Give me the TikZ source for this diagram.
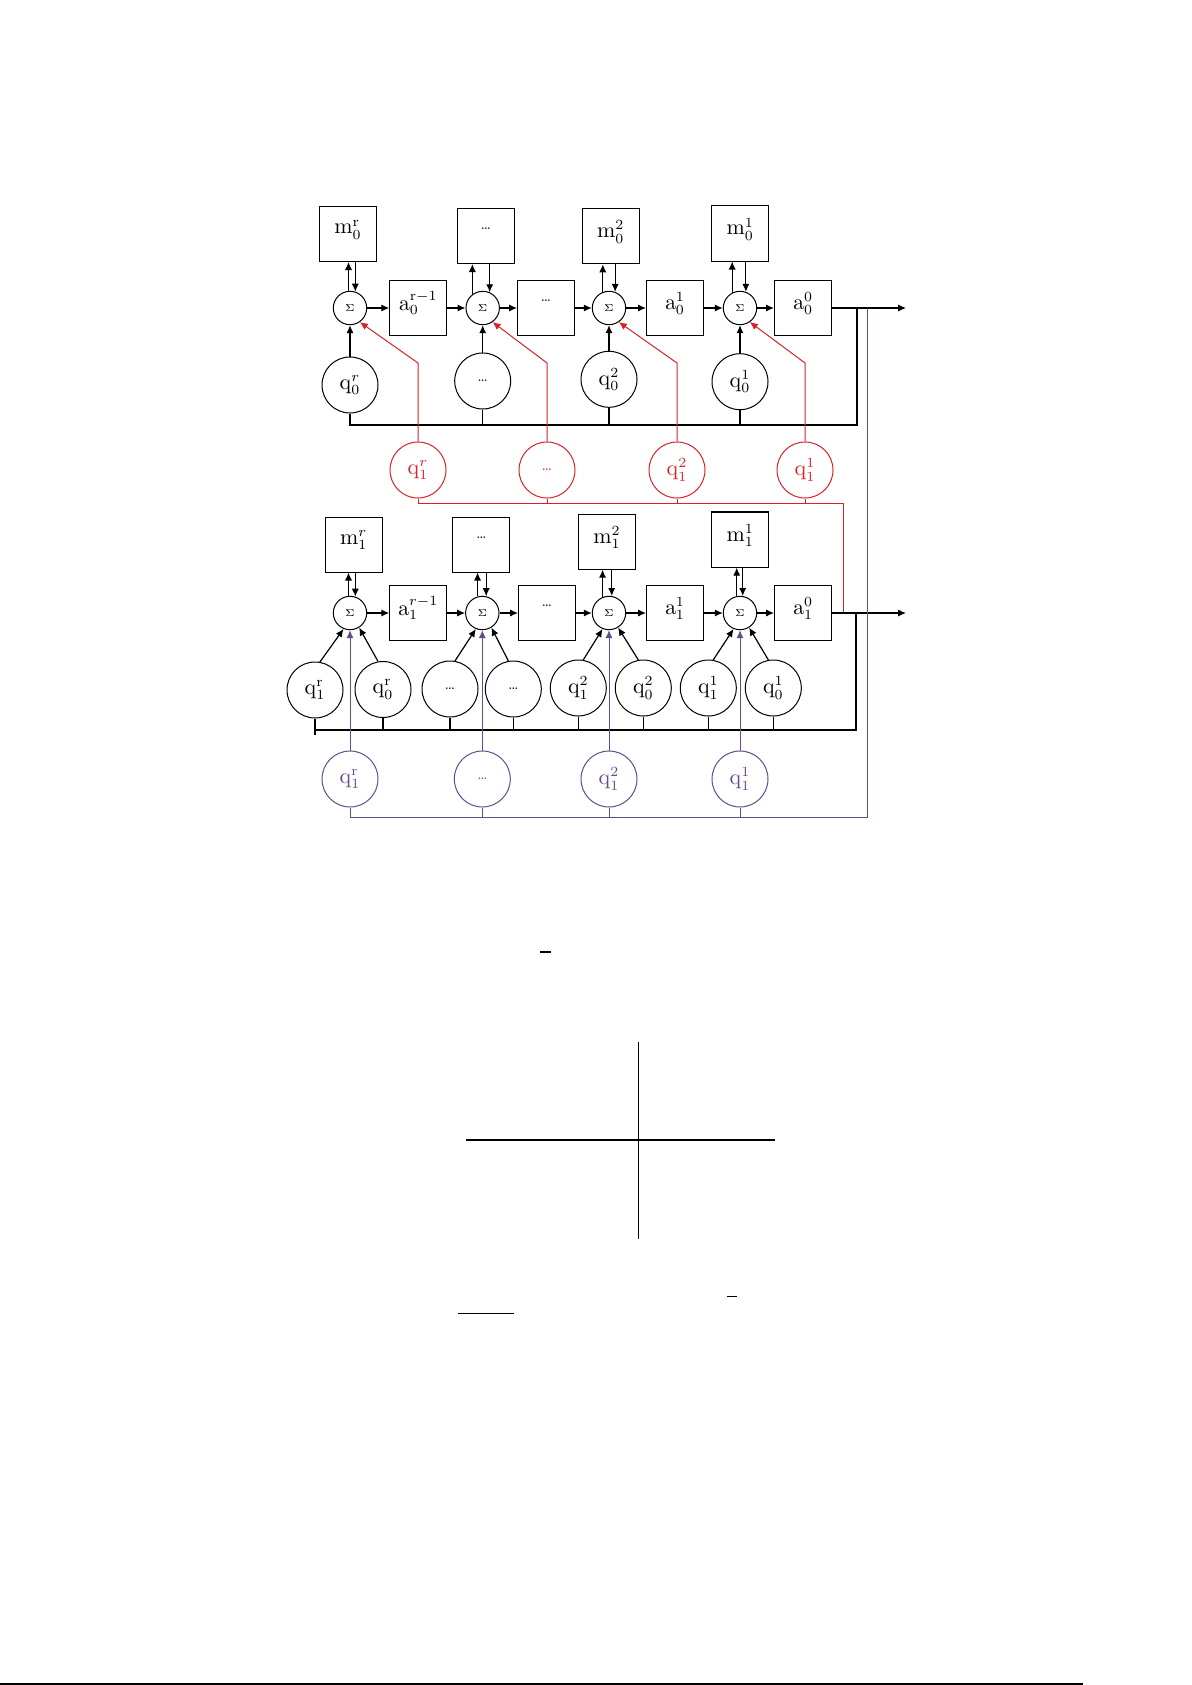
\documentclass[tikz,border=0pt]{standalone}
\usetikzlibrary{arrows.meta}
\definecolor{myred}{RGB}{215,35,40}
\definecolor{mypurple}{RGB}{105,75,140}
\newcommand\mydots{{\fontsize{7}{8}\selectfont\ldots}}
\begin{document}
\begin{tikzpicture}[x=0.5pt,y=-0.5pt,
  every node/.style={font=\fontsize{10.5}{12}\selectfont},
  bx/.style={draw, line width=0.5pt, minimum width=28.5pt, minimum height=27.5pt, inner sep=0pt},
  sg/.style={draw, circle, line width=0.5pt, minimum size=16.7pt, inner sep=0pt, font=\fontsize{5.5}{6}\selectfont},
  qc/.style={draw, circle, line width=0.5pt, minimum size=28pt, inner sep=0pt},
  rc/.style={qc, draw=myred, text=myred},
  pc/.style={qc, draw=mypurple, text=mypurple},
  ln/.style={line width=0.6pt},
  arr/.style={ln, -{Latex[length=4pt,width=3.6pt]}},
  rln/.style={line width=0.5pt, myred},
  rarr/.style={rln, -{Latex[length=4pt,width=3.6pt]}},
  pln/.style={line width=0.5pt, mypurple},
  parr/.style={pln, -{Latex[length=4pt,width=3.6pt]}},
  misc/.style={line width=0.75pt}
]
\useasboundingbox (0,0) rectangle (1192,1685);

% ---------- upper chain ----------
\node[bx] (M01) at (348,234) {\raisebox{7pt}{$\mathrm{m}_0^{\mathrm{r}}$}};
\node[bx] (M02) at (485.8,236) {\raisebox{7pt}{\mydots}};
\node[bx] (M03) at (610.8,236.3) {\raisebox{7pt}{$\mathrm{m}_0^{2}$}};
\node[bx] (M04) at (740.3,233.5) {\raisebox{7pt}{$\mathrm{m}_0^{1}$}};

\node[sg] (S01) at (350,308) {$\Sigma$};
\node[sg] (S02) at (482.7,308) {$\Sigma$};
\node[sg] (S03) at (609,308) {$\Sigma$};
\node[sg] (S04) at (740,308) {$\Sigma$};

\node[bx] (A01) at (418.3,308) {\raisebox{7pt}{$\mathrm{a}_0^{\mathrm{r-1}}$}};
\node[bx] (A02) at (546,308) {\raisebox{7pt}{\mydots}};
\node[bx] (A03) at (675,308) {\raisebox{7pt}{$\mathrm{a}_0^{1}$}};
\node[bx] (A04) at (803,308) {\raisebox{7pt}{$\mathrm{a}_0^{0}$}};

\node[qc] (Q01) at (350,385) {$\mathrm{q}_0^{r}$};
\node[qc] (Q02) at (482.7,381) {\mydots};
\node[qc] (Q03) at (609,379.3) {$\mathrm{q}_0^{2}$};
\node[qc] (Q04) at (740,381.7) {$\mathrm{q}_0^{1}$};

\coordinate (O0) at (906,308);
\coordinate (B0R) at (857,425);

\draw[arr] (S01.east) -- (S01.east -| A01.west);
\draw[arr] (A01.east |- S02.west) -- (S02.west);
\draw[arr] (S02.east) -- (S02.east -| A02.west);
\draw[arr] (A02.east |- S03.west) -- (S03.west);
\draw[arr] (S03.east) -- (S03.east -| A03.west);
\draw[arr] (A03.east |- S04.west) -- (S04.west);
\draw[arr] (S04.east) -- (S04.east -| A04.west);
\draw[arr] (A04.east) -- (O0);

\draw[arr] (S01.95) -- (S01.95 |- M01.south);
\draw[arr] (S01.72 |- M01.south) -- (S01.72);
\draw[arr] (S02.127) -- (S02.127 |- M02.south);
\draw[arr] (S02.66 |- M02.south) -- (S02.66);
\draw[arr] (S03.111) -- (S03.111 |- M03.south);
\draw[arr] (S03.69 |- M03.south) -- (S03.69);
\draw[arr] (S04.117) -- (S04.117 |- M04.south);
\draw[arr] (S04.70 |- M04.south) -- (S04.70);

\draw[arr] (Q01.north) -- (S01.south);
\draw[arr] (Q02.north) -- (S02.south);
\draw[arr] (Q03.north) -- (S03.south);
\draw[arr] (Q04.north) -- (S04.south);

\draw[ln] (Q01.south) |- (B0R) -- (B0R |- O0);
\draw[ln] (Q02.south) -- (Q02.south |- B0R);
\draw[ln] (Q03.south) -- (Q03.south |- B0R);
\draw[ln] (Q04.south) -- (Q04.south |- B0R);

% ---------- red feedback ----------
\node[rc] (R1) at (418,470) {$\mathrm{q}_1^{r}$};
\node[rc] (R2) at (547,470) {\mydots};
\node[rc] (R3) at (677,470) {$\mathrm{q}_1^{2}$};
\node[rc] (R4) at (805,470) {$\mathrm{q}_1^{1}$};
\coordinate (K1) at (418,363);
\coordinate (K2) at (547,363);
\coordinate (K3) at (677,363);
\coordinate (K4) at (805,363);
\draw[rarr] (R1.north) -- (K1) -- (S01.-55);
\draw[rarr] (R2.north) -- (K2) -- (S02.-55);
\draw[rarr] (R3.north) -- (K3) -- (S03.-55);
\draw[rarr] (R4.north) -- (K4) -- (S04.-55);
\coordinate (RB) at (843,503);
\coordinate (O1) at (906,613);
\draw[rln] (R1.south) |- (RB) -- (RB |- O1);
\draw[rln] (R2.south) -- (R2.south |- RB);
\draw[rln] (R3.south) -- (R3.south |- RB);
\draw[rln] (R4.south) -- (R4.south |- RB);

% ---------- lower chain ----------
\node[bx] (M11) at (353.8,544.5) {\raisebox{7pt}{$\mathrm{m}_1^{r}$}};
\node[bx] (M12) at (481.3,544.5) {\raisebox{7pt}{\mydots}};
\node[bx] (M13) at (607,541.7) {\raisebox{7pt}{$\mathrm{m}_1^{2}$}};
\node[bx] (M14) at (740.3,539.7) {\raisebox{7pt}{$\mathrm{m}_1^{1}$}};
\draw[line width=1.1pt] (M14.north west) -- (M14.north east);

\node[sg] (S11) at (350,613) {$\Sigma$};
\node[sg] (S12) at (482.3,613) {$\Sigma$};
\node[sg] (S13) at (609,613) {$\Sigma$};
\node[sg] (S14) at (740,613) {$\Sigma$};

\node[bx] (A11) at (418.3,613) {\raisebox{7pt}{$\mathrm{a}_1^{r-1}$}};
\node[bx] (A12) at (547,613) {\raisebox{7pt}{\mydots}};
\node[bx] (A13) at (675,613) {\raisebox{7pt}{$\mathrm{a}_1^{1}$}};
\node[bx] (A14) at (803,613) {\raisebox{7pt}{$\mathrm{a}_1^{0}$}};

\node[qc] (L1) at (315,690) {$\mathrm{q}_1^{\mathrm{r}}$};
\node[qc] (L2) at (383,689.5) {$\mathrm{q}_0^{\mathrm{r}}$};
\node[qc] (L3) at (450,689) {\mydots};
\node[qc] (L4) at (513.3,689) {\mydots};
\node[qc] (L5) at (578.3,688) {$\mathrm{q}_1^{2}$};
\node[qc] (L6) at (643.3,688) {$\mathrm{q}_0^{2}$};
\node[qc] (L7) at (708.3,688) {$\mathrm{q}_1^{1}$};
\node[qc] (L8) at (773.3,688) {$\mathrm{q}_0^{1}$};

\draw[arr] (S11.east) -- (S11.east -| A11.west);
\draw[arr] (A11.east |- S12.west) -- (S12.west);
\draw[arr] (S12.east) -- (S12.east -| A12.west);
\draw[arr] (A12.east |- S13.west) -- (S13.west);
\draw[arr] (S13.east) -- (S13.east -| A13.west);
\draw[arr] (A13.east |- S14.west) -- (S14.west);
\draw[arr] (S14.east) -- (S14.east -| A14.west);
\draw[arr] (A14.east) -- (O1);

\draw[arr] (S11.95) -- (S11.95 |- M11.south);
\draw[arr] (S11.72 |- M11.south) -- (S11.72);
\draw[arr] (S12.106) -- (S12.106 |- M12.south);
\draw[arr] (S12.77 |- M12.south) -- (S12.77);
\draw[arr] (S13.112) -- (S13.112 |- M13.south);
\draw[arr] (S13.81 |- M13.south) -- (S13.81);
\draw[arr] (S14.101) -- (S14.101 |- M14.south);
\draw[arr] (S14.81 |- M14.south) -- (S14.81);

\draw[arr] (L1.80) -- (S11.-112);
\draw[arr] (L2.100) -- (S11.-58);
\draw[arr] (L3.80) -- (S12.-112);
\draw[arr] (L4.100) -- (S12.-58);
\draw[arr] (L5.80) -- (S13.-112);
\draw[arr] (L6.100) -- (S13.-58);
\draw[arr] (L7.80) -- (S14.-112);
\draw[arr] (L8.100) -- (S14.-58);

\coordinate (B1R) at (856,730);
\coordinate (B1L) at (315,735);
\draw[ln] (L1.south) -- (B1L);
\draw[ln] (L1.south |- B1R) -- (B1R) -- (B1R |- O1);
\draw[ln] (L2.south) -- (L2.south |- B1R);
\draw[ln] (L3.south) -- (L3.south |- B1R);
\draw[ln] (L4.south) -- (L4.south |- B1R);
\draw[ln] (L5.south) -- (L5.south |- B1R);
\draw[ln] (L6.south) -- (L6.south |- B1R);
\draw[ln] (L7.south) -- (L7.south |- B1R);
\draw[ln] (L8.south) -- (L8.south |- B1R);

% ---------- purple feedback ----------
\node[pc] (P1) at (350,779) {$\mathrm{q}_1^{\mathrm{r}}$};
\node[pc] (P2) at (482.3,779) {\mydots};
\node[pc] (P3) at (609,779) {$\mathrm{q}_1^{2}$};
\node[pc] (P4) at (740,779) {$\mathrm{q}_1^{1}$};
\draw[parr] (P1.north) -- (S11.south);
\draw[parr] (P2.north) -- (S12.south);
\draw[parr] (P3.north) -- (S13.south);
\draw[parr] (P4.north) -- (S14.south);
\coordinate (PB) at (867,817);
\draw[pln] (P1.south) |- (PB) -- (PB |- O0);
\draw[pln] (P2.south) -- (P2.south |- PB);
\draw[pln] (P3.south) -- (P3.south |- PB);
\draw[pln] (P4.south) -- (P4.south |- PB);

% ---------- remaining strokes ----------
\draw[misc] (540,952) -- (551,952);
\draw[misc] (638.3,1041.7) -- (638.3,1239);
\draw[misc] (466,1140) -- (775,1140);
\draw[misc] (726.7,1296.7) -- (736.7,1296.7);
\draw[misc] (458.3,1313.3) -- (514,1313.3);
\draw[line width=1pt] (0,1684) -- (1083,1684);
\end{tikzpicture}
\end{document}
